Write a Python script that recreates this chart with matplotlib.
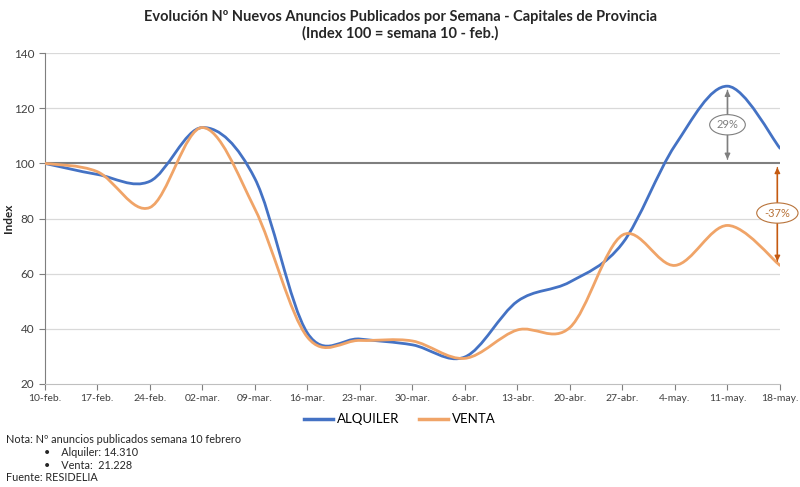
import matplotlib
matplotlib.use("Agg")
import matplotlib.pyplot as plt
from matplotlib.path import Path
from matplotlib.patches import PathPatch
from matplotlib.lines import Line2D
import numpy as np

weeks = ["10-feb.", "17-feb.", "24-feb.", "02-mar.", "09-mar.", "16-mar.", "23-mar.",
         "30-mar.", "6-abr.", "13-abr.", "20-abr.", "27-abr.", "4-may.", "11-may.", "18-may."]
alquiler = [100, 96, 93.5, 113, 94.5, 38.5, 36.3, 34.2, 29.8, 50, 57, 71, 106.5, 128, 105.5]
venta = [100, 97, 84, 113, 83.5, 37, 35.8, 35.6, 29.3, 39.6, 40.5, 74, 63, 77.5, 63]
pct_alquiler = "29%"
pct_venta = "-37%"

BLUE = "#4472C4"
ORANGE = "#F0A468"

plt.rcParams['font.family'] = ['Lato', 'DejaVu Sans']

fig = plt.figure(figsize=(8, 4.87), dpi=100)
ax = fig.add_axes([0.056, 0.2115, 0.919, 0.6795])


def smooth_path(xs, ys):
    xs = np.asarray(xs, float)
    ys = np.asarray(ys, float)
    n = len(xs)
    verts = [(xs[0], ys[0])]
    codes = [Path.MOVETO]
    for i in range(n - 1):
        p0 = np.array([xs[max(i - 1, 0)], ys[max(i - 1, 0)]])
        p1 = np.array([xs[i], ys[i]])
        p2 = np.array([xs[i + 1], ys[i + 1]])
        p3 = np.array([xs[min(i + 2, n - 1)], ys[min(i + 2, n - 1)]])
        c1 = p1 + (p2 - p0) / 6.0
        c2 = p2 - (p3 - p1) / 6.0
        verts += [tuple(c1), tuple(c2), tuple(p2)]
        codes += [Path.CURVE4] * 3
    return Path(verts, codes)


x = np.arange(len(weeks))
ax.set_xlim(0, len(weeks) - 1)
ax.set_ylim(20, 140)

for yv in range(40, 141, 20):
    if yv != 100:
        ax.axhline(yv, color="#D9D9D9", lw=0.9, zorder=0)
ax.axhline(100, color="#7F7F7F", lw=1.5, zorder=1)

for data, col in [(alquiler, BLUE), (venta, ORANGE)]:
    ax.add_patch(PathPatch(smooth_path(x, data), facecolor="none", edgecolor=col, lw=2.0, zorder=3,
                           capstyle="round", joinstyle="round"))

ax.set_xticks(x)
ax.set_xticklabels(weeks, fontsize=7.5, color="#404040")
ax.set_yticks(range(20, 141, 20))
ax.tick_params(axis="y", labelsize=8.5, colors="#404040", length=4, color="#7F7F7F")
ax.tick_params(axis="x", length=4, color="#7F7F7F", pad=3)
for s in ["top", "right"]:
    ax.spines[s].set_visible(False)
ax.spines["left"].set_color("#7F7F7F")
ax.spines["bottom"].set_color("#BFBFBF")
fig.text(0.011, 0.5517, "Index", rotation=90, ha="center", va="center", fontsize=8.5,
         fontweight="bold", color="#262626")

# annotations
xa = 13
ax.annotate("", xy=(xa, alquiler[13] - 0.5), xytext=(xa, 100.5),
            arrowprops=dict(arrowstyle="-|>", color="#7F7F7F", lw=1, mutation_scale=8), zorder=4)
ax.annotate("", xy=(xa, 100.5), xytext=(xa, alquiler[13] - 0.5),
            arrowprops=dict(arrowstyle="-|>", color="#7F7F7F", lw=1, mutation_scale=8), zorder=4)
ax.text(xa, 114, pct_alquiler, ha="center", va="center", fontsize=8, color="#7F7F7F", zorder=5,
        bbox=dict(boxstyle="ellipse,pad=0.15", fc="white", ec="#7F7F7F", lw=0.8))

xb = 14 - 0.05
ax.annotate("", xy=(xb, venta[14] + 0.5), xytext=(xb, 99.5),
            arrowprops=dict(arrowstyle="-|>", color="#C55A11", lw=1, mutation_scale=8), zorder=4)
ax.annotate("", xy=(xb, 99.5), xytext=(xb, venta[14] + 0.5),
            arrowprops=dict(arrowstyle="-|>", color="#C55A11", lw=1, mutation_scale=8), zorder=4)
ax.text(xb, 82, pct_venta, ha="center", va="center", fontsize=8, color="#B8733A", zorder=5,
        bbox=dict(boxstyle="ellipse,pad=0.15", fc="white", ec="#B8733A", lw=0.8))

fig.text(0.5, 0.965, "Evolución Nº Nuevos Anuncios Publicados por Semana - Capitales de Provincia",
         ha="center", va="center", fontsize=10.5, fontweight="bold", color="#262626")
fig.text(0.5, 0.932, "(Index 100 = semana 10 - feb.)", ha="center", va="center",
         fontsize=10.5, fontweight="bold", color="#262626")

handles = [Line2D([], [], color=BLUE, lw=2.5), Line2D([], [], color=ORANGE, lw=2.5)]
fig.legend(handles, ["ALQUILER", "VENTA"], loc="center", bbox_to_anchor=(0.5, 0.139), ncol=2,
           frameon=False, fontsize=9.5, handlelength=2.2, columnspacing=1.5, handletextpad=0.3)

fs = 7.8
fig.text(0.007, 0.097, "Nota: Nº anuncios publicados semana 10 febrero", fontsize=fs, va="center", color="#262626")
fig.text(0.055, 0.070, "•    Alquiler: 14.310", fontsize=fs, va="center", color="#262626")
fig.text(0.055, 0.045, "•    Venta:  21.228", fontsize=fs, va="center", color="#262626")
fig.text(0.007, 0.020, "Fuente: RESIDELIA", fontsize=fs, va="center", color="#262626")

fig.savefig("out.png", dpi=100)
